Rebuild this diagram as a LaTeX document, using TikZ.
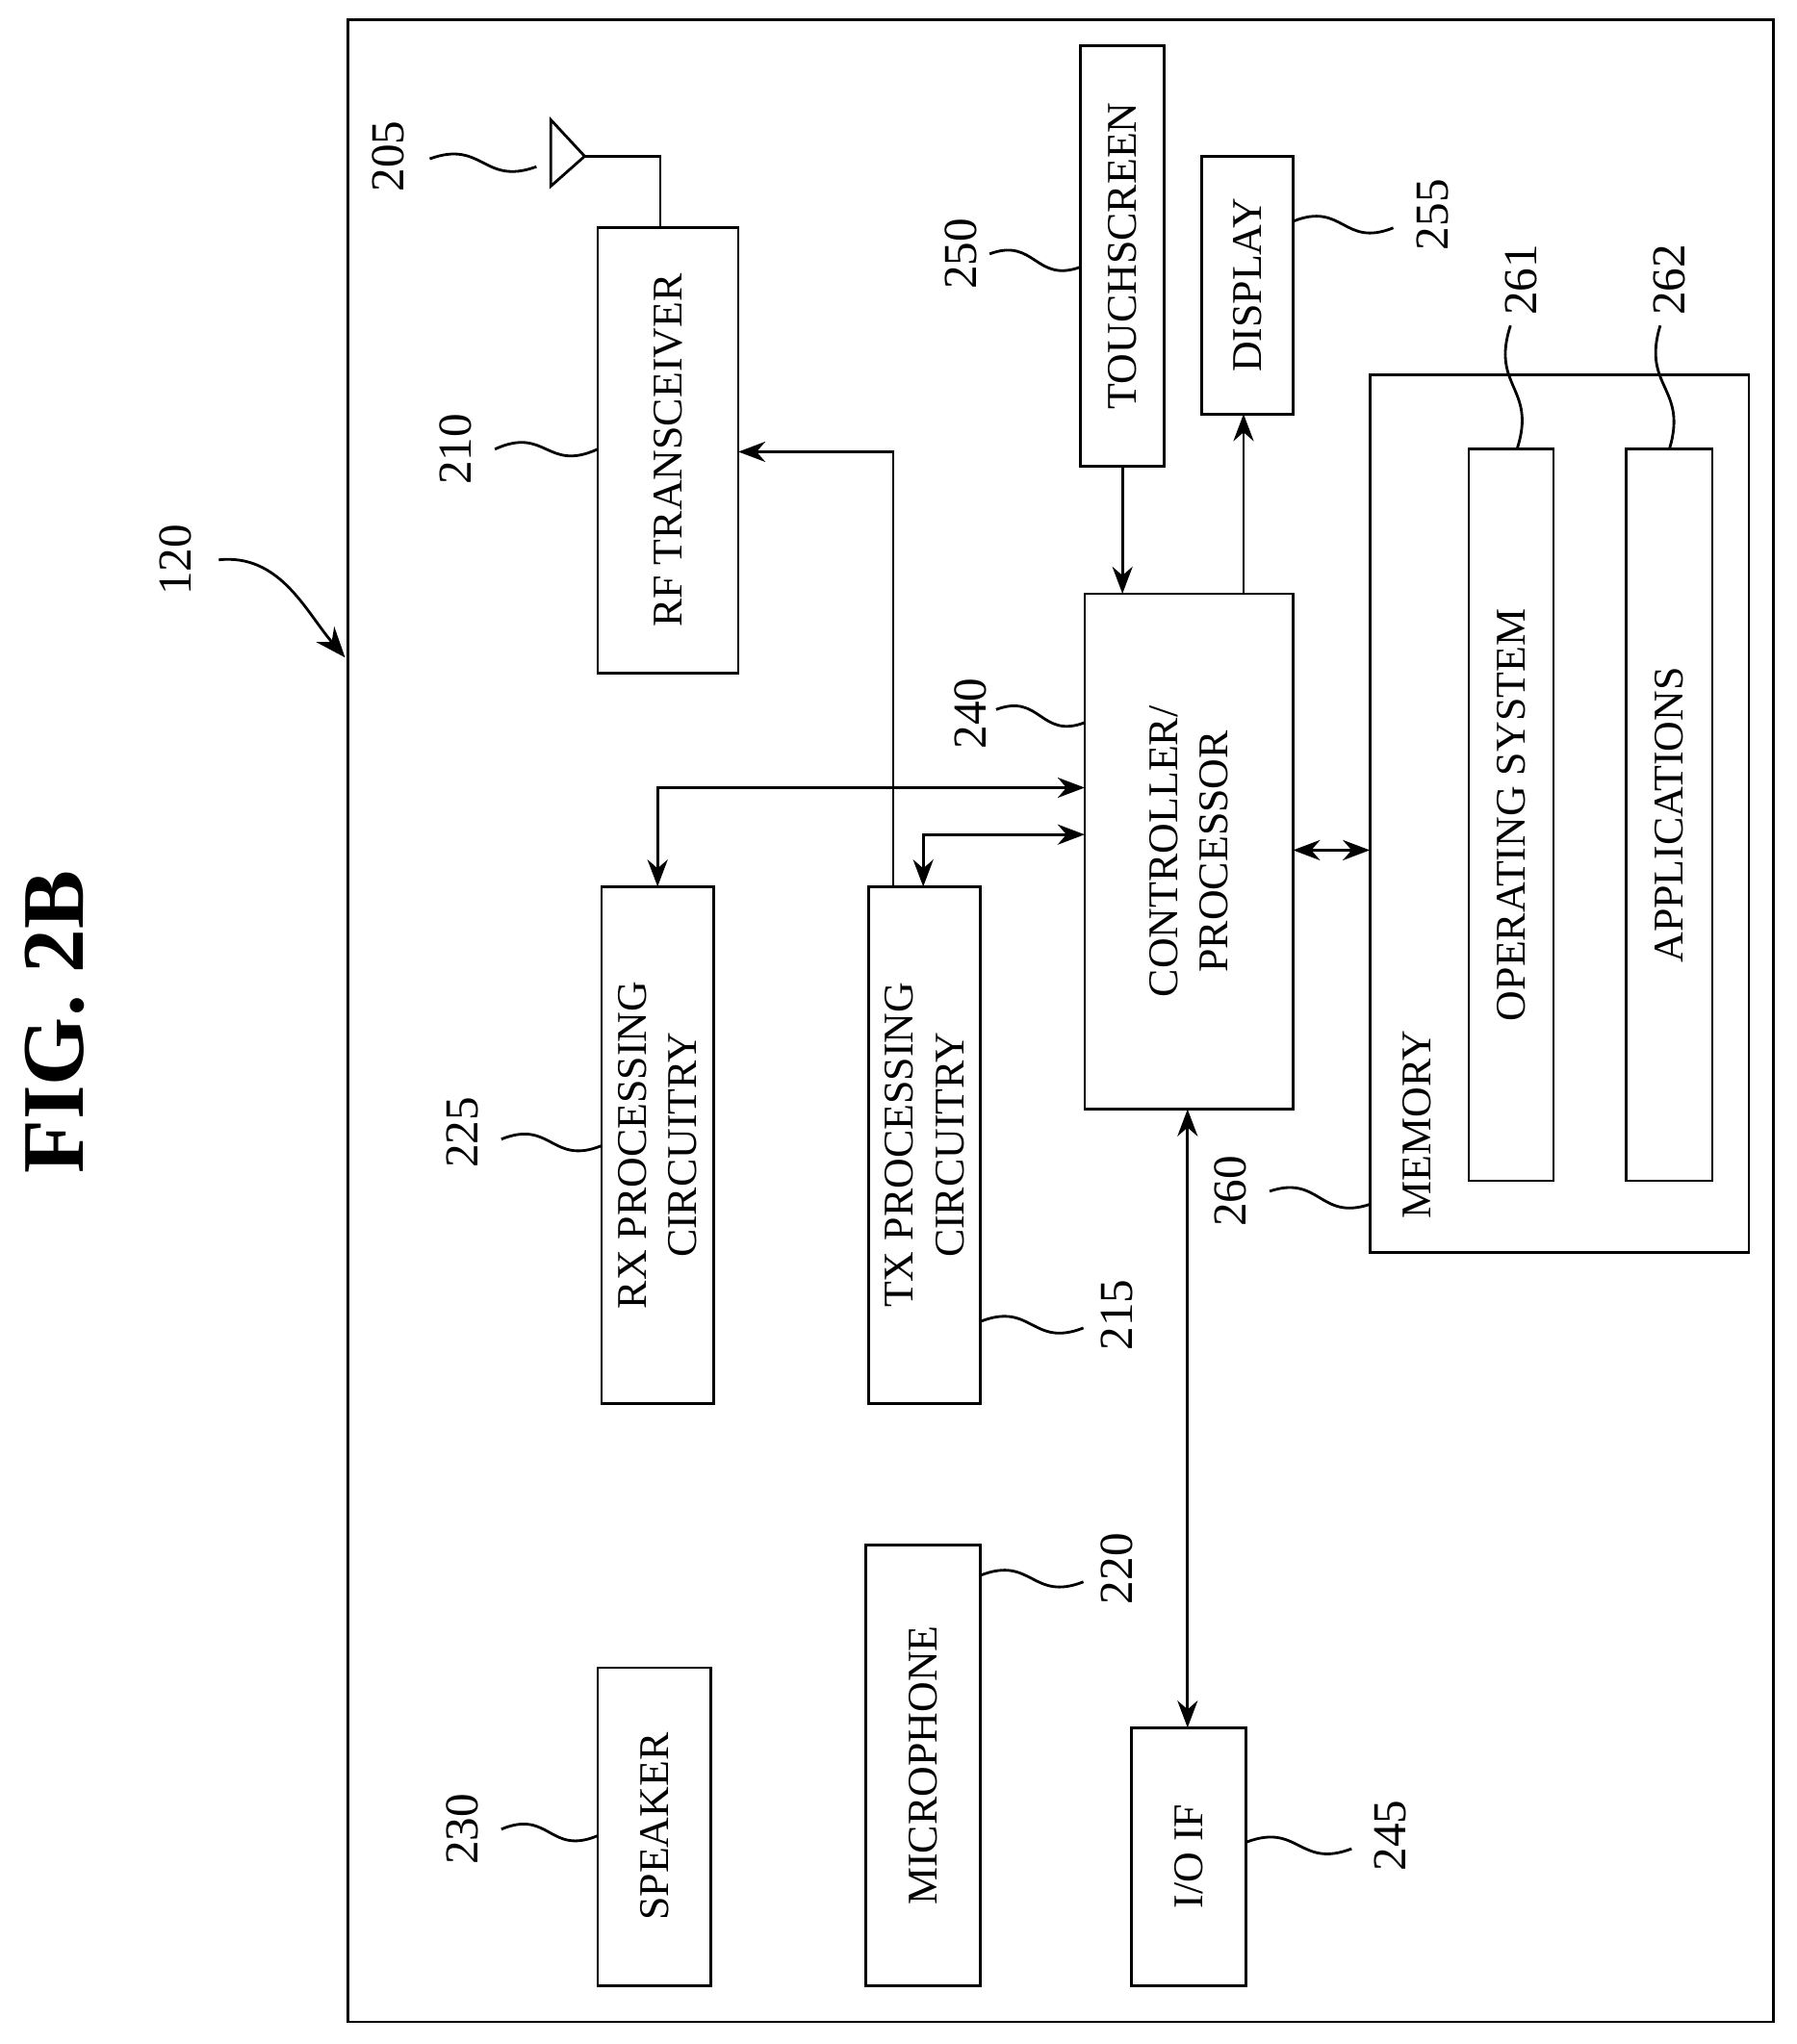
\documentclass[tikz,border=0pt]{standalone}
\usepackage{fontspec}
\setmainfont{Liberation Serif}
\usetikzlibrary{arrows.meta, positioning, calc}
\tikzset{
  blk/.style={rectangle, draw, thick, inner sep=0pt},
  txt/.style={rotate=90, font=\fontsize{12.5}{15}\selectfont, align=center},
  num/.style={rotate=90, font=\fontsize{14}{16}\selectfont},
  link/.style={thick, -{Stealth[length=8pt,width=6pt]}},
  dlink/.style={thick, {Stealth[length=8pt,width=6pt]}-{Stealth[length=8pt,width=6pt]}},
  squig/.style={thick}
}
\newcommand{\wavy}[2]{\draw[squig] (#1) .. controls ($(#1)!0.5!(#2)+(0,-18)$) and ($(#1)!0.5!(#2)+(0,18)$) .. (#2);}
\newcommand{\wavyv}[2]{\draw[squig] (#1) .. controls ($(#1)!0.5!(#2)+(-18,0)$) and ($(#1)!0.5!(#2)+(18,0)$) .. (#2);}
\begin{document}
\begin{tikzpicture}[x=0.01353cm,y=-0.01353cm]
  \useasboundingbox (0,0) rectangle (1380,1570);
  % outer frame
  \draw[thick] (267,15) rectangle (1362,1553);
  % blocks
  \draw[blk] (459,175) rectangle (567,517) node[midway, txt] (rf) {RF TRANSCEIVER};
  \draw[blk] (830,35) rectangle (894,358) node[midway, txt] (ts) {TOUCHSCREEN};
  \draw[blk] (923,120) rectangle (993,318) node[midway, txt] (disp) {DISPLAY};
  \draw[blk] (833,456) rectangle (993,852) node[midway, txt] (cpu) {CONTROLLER/\\PROCESSOR};
  \draw[blk] (1052,288) rectangle (1343,962);
  \node[txt, anchor=south west] (mem) at (1108,945) {MEMORY};
  \draw[blk] (1128,345) rectangle (1193,907) node[midway, txt] (os) {OPERATING SYSTEM};
  \draw[blk] (1249,345) rectangle (1315,907) node[midway, txt] (app) {APPLICATIONS};
  \draw[blk] (462,681) rectangle (548,1078) node[midway, txt] (rx) {RX PROCESSING\\CIRCUITRY};
  \draw[blk] (667,681) rectangle (753,1078) node[midway, txt] (tx) {TX PROCESSING\\CIRCUITRY};
  \draw[blk] (665,1187) rectangle (753,1525) node[midway, txt] (mic) {MICROPHONE};
  \draw[blk] (459,1281) rectangle (546,1525) node[midway, txt] (spk) {SPEAKER};
  \draw[blk] (869,1327) rectangle (957,1525) node[midway, txt] (io) {I/O IF};
  % antenna
  \draw[thick] (423,92) -- (423,143) -- (449,120) -- cycle;
  \draw[thick] (449,120) -- (507,120) -- (507,175);
  % connectors
  \draw[link] (686,681) -- (686,347) -- (567,347);
  \draw[dlink] (505,681) -- (505,605) -- (833,605);
  \draw[dlink] (709,681) -- (709,641) -- (833,641);
  \draw[link] (862,358) -- (862,456);
  \draw[link] (955,456) -- (955,318);
  \draw[dlink] (993,653) -- (1052,653);
  \draw[dlink] (912,852) -- (912,1327);
  % reference numerals
  \node[font=\bfseries\fontsize{26}{28}\selectfont, rotate=90] (fig) at (42,785) {FIG. 2B};
  \node[num] (n120) at (135,430) {120};
  \draw[thick, -{Stealth[length=9pt,width=7pt]}] (168,430) .. controls (215,425) and (235,470) .. (265,505);
  \node[num] (n205) at (298,120) {205};
  \wavy{330,122}{412,128}
  \node[num] (n210) at (350,345) {210};
  \wavy{380,345}{459,345}
  \node[num] (n225) at (355,870) {225};
  \wavy{385,875}{462,880}
  \node[num] (n215) at (858,1010) {215};
  \wavy{753,1015}{832,1020}
  \node[num] (n220) at (858,1205) {220};
  \wavy{753,1210}{832,1215}
  \node[num] (n230) at (355,1405) {230};
  \wavy{385,1405}{459,1410}
  \node[num] (n245) at (1068,1410) {245};
  \wavy{957,1415}{1038,1420}
  \node[num] (n240) at (745,548) {240};
  \wavy{765,545}{833,555}
  \node[num] (n250) at (738,195) {250};
  \wavy{760,195}{830,205}
  \node[num] (n255) at (1100,165) {255};
  \wavy{993,170}{1070,175}
  \node[num] (n260) at (945,915) {260};
  \wavy{975,915}{1052,925}
  \node[num] (n261) at (1168,215) {261};
  \wavyv{1160,250}{1165,345}
  \node[num] (n262) at (1282,215) {262};
  \wavyv{1275,250}{1282,345}
\end{tikzpicture}
\end{document}
